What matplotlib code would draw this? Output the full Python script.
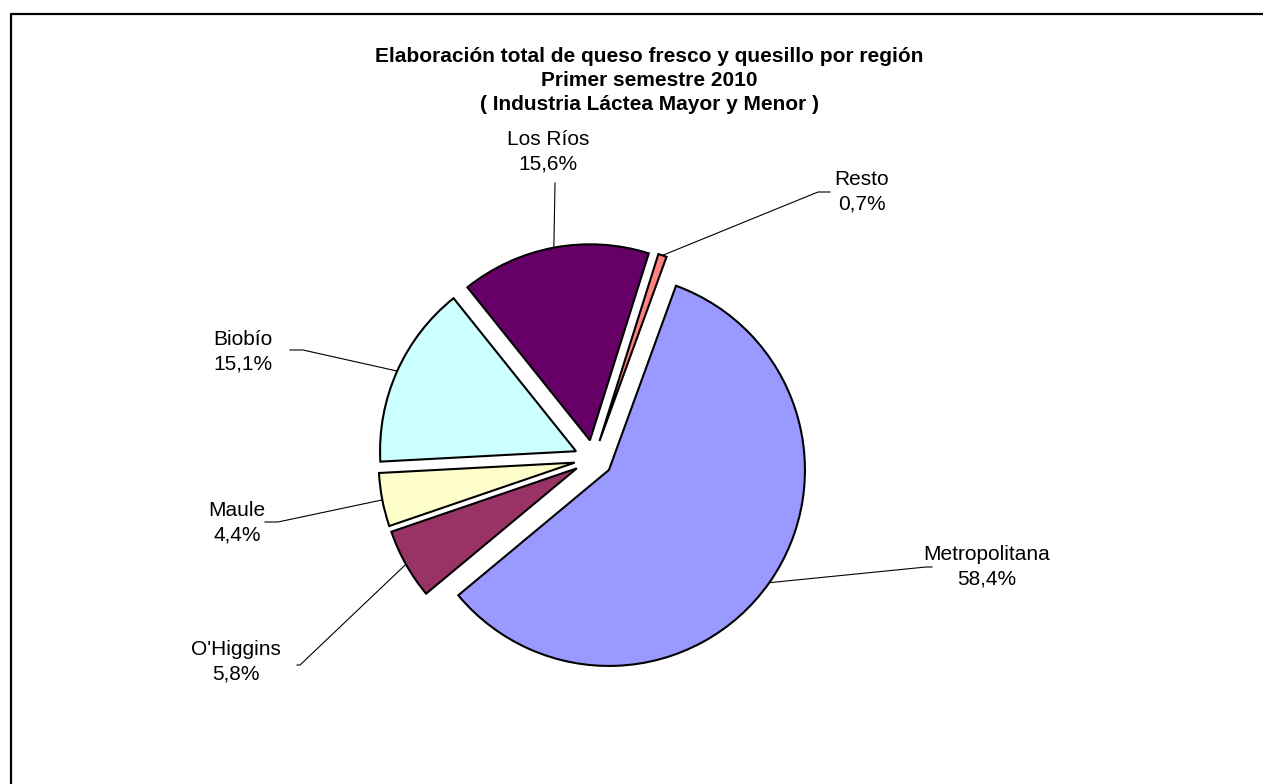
import numpy as np
import matplotlib
matplotlib.use("Agg")
import matplotlib.pyplot as plt

plt.rcParams['font.family'] = ['Liberation Sans', 'DejaVu Sans']

# data
regions = ["Metropolitana", "O'Higgins", "Maule", "Biobío", "Los Ríos", "Resto"]
shares = [58.4, 5.8, 4.4, 15.1, 15.6, 0.7]
colors = ["#9999FF", "#993366", "#FFFFCC", "#CCFFFF", "#660066", "#FF8080"]
title_lines = ["Elaboración total de queso fresco y quesillo por región",
               "Primer semestre 2010",
               "( Industria Láctea Mayor y Menor )"]

# layout (pixels of the 1263x784 canvas)
W, H = 1263, 784
CX, CY, R = 593.4, 459.0, 196.0
label_pos = {"Metropolitana": (987, 567), "O'Higgins": (236, 662), "Maule": (237, 523),
             "Biobío": (243, 352), "Los Ríos": (548, 152), "Resto": (862, 192)}
# elbow and end of each leader line
leader_pts = {"Metropolitana": [(926, 567), (932, 567)],
              "O'Higgins": [(300, 665), (297, 665)],
              "Maule": [(278, 522), (265, 522)],
              "Biobío": [(303, 350), (290, 350)],
              "Los Ríos": [(555, 183)],
              "Resto": [(818, 192), (830, 192)]}


def px(x, y):
    """pixel -> data coords (pie radius = 1)"""
    return (x - CX) / R, (CY - y) / R


fig = plt.figure(figsize=(W / 100, H / 100), dpi=100)
ax = fig.add_axes([0, 0, 1, 1])

wedges, _ = ax.pie(shares, colors=colors, startangle=70, counterclock=False,
                   explode=[0.097] * len(shares), radius=1,
                   wedgeprops=dict(edgecolor='black', linewidth=1.5))

for w, name, val in zip(wedges, regions, shares):
    mid = np.deg2rad((w.theta1 + w.theta2) / 2)
    cx, cy = w.center
    pts = [(cx + w.r * np.cos(mid), cy + w.r * np.sin(mid))]
    pts += [px(*p) for p in leader_pts[name]]
    xs, ys = zip(*pts)
    ax.plot(xs, ys, color='black', lw=0.8)
    tx, ty = px(*label_pos[name])
    ax.text(tx, ty, f"{name}\n{val:.1f}%".replace('.', ','), ha='center', va='center',
            fontsize=15, linespacing=1.35)

for line, y in zip(title_lines, [57, 81, 105]):
    ax.text(*px(649, y), line, ha='center', va='center', fontsize=15, fontweight='bold')

# chart frame
ax.plot(*zip(px(11, H + 5), px(11, 14), px(W + 5, 14)), color='black', lw=1.6)

ax.set_xlim(px(0, 0)[0], px(W, 0)[0])
ax.set_ylim(px(0, H)[1], px(0, 0)[1])
ax.set_aspect('equal')
ax.axis('off')

fig.savefig("out.png", dpi=100)
